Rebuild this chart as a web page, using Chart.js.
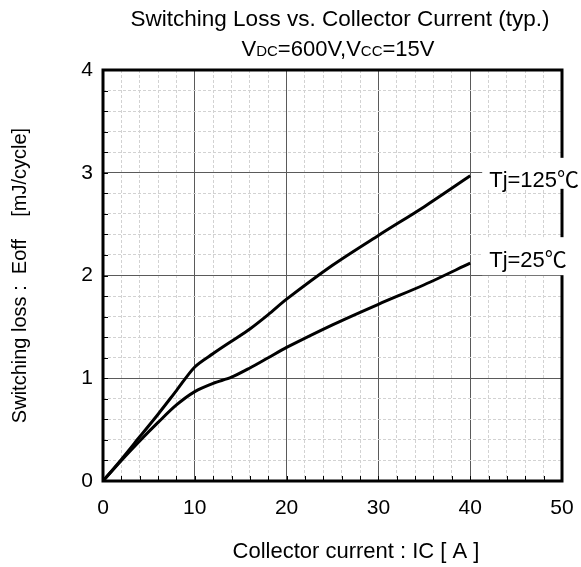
<!DOCTYPE html>
<html>
<head>
<meta charset="utf-8">
<script src="https://cdn.jsdelivr.net/npm/chart.js@4.4.1/dist/chart.umd.min.js"></script>
<style>
  body { margin: 0; background: #fff; }
  #wrap { width: 581px; height: 567px; position: relative; }
</style>
</head>
<body>
<div id="wrap"><canvas id="myChart"></canvas></div>
<script>
// collector current [A]
let current = [0, 2, 4, 6, 8, 10, 12, 14, 16, 18, 20, 25, 30, 35, 40];
// Eoff [mJ/cycle]
let eoff125 = [0, 0.21, 0.43, 0.65, 0.88, 1.11, 1.24, 1.36, 1.48, 1.62, 1.77, 2.10, 2.39, 2.67, 2.97];
let eoff25 = [0, 0.20, 0.39, 0.57, 0.74, 0.87, 0.95, 1.01, 1.10, 1.20, 1.30, 1.52, 1.72, 1.91, 2.12];

let seriesNames = ['Tj=125℃', 'Tj=25℃'];
let xTicks = [0, 10, 20, 30, 40, 50];
let yTicks = [0, 1, 2, 3, 4];

let fontFamily = '"Liberation Sans", Arial, "Noto Sans CJK JP", sans-serif';

function toPoints(xs, ys) {
  let pts = [];
  for (let i = 0; i < xs.length; i++) {
    pts.push({ x: xs[i], y: ys[i] });
  }
  return pts;
}

function isMajor(v, list) {
  for (let i = 0; i < list.length; i++) {
    if (Math.abs(v - list[i]) < 1e-6) return true;
  }
  return false;
}

// titles, frame, inward ticks and the series labels
const decorations = {
  id: 'decorations',
  afterDraw(chart) {
    const ctx = chart.ctx;
    const area = chart.chartArea;
    const xs = chart.scales.x;
    const ys = chart.scales.y;

    ctx.save();
    ctx.fillStyle = '#000';
    ctx.textBaseline = 'alphabetic';

    // title
    ctx.font = '22.5px ' + fontFamily;
    ctx.textAlign = 'center';
    ctx.fillText('Switching Loss vs. Collector Current (typ.)', 340, 26);

    // sub title with subscripts
    let parts = [['V', false], ['DC', true], ['=600V,V', false], ['CC', true], ['=15V', false]];
    let total = 0;
    for (let p of parts) {
      ctx.font = (p[1] ? '15px ' : '22px ') + fontFamily;
      total += ctx.measureText(p[0]).width;
    }
    let cx = 338 - total / 2;
    ctx.textAlign = 'left';
    for (let p of parts) {
      ctx.font = (p[1] ? '15px ' : '22px ') + fontFamily;
      ctx.fillText(p[0], cx, 56);
      cx += ctx.measureText(p[0]).width;
    }

    // inward tick marks
    ctx.strokeStyle = '#000';
    ctx.lineWidth = 1;
    ctx.beginPath();
    for (let t of xs.ticks) {
      let px = Math.round(xs.getPixelForValue(t.value)) + 0.5;
      ctx.moveTo(px, area.bottom);
      ctx.lineTo(px, area.bottom - 5);
    }
    for (let t of ys.ticks) {
      let py = Math.round(ys.getPixelForValue(t.value)) + 0.5;
      ctx.moveTo(area.left, py);
      ctx.lineTo(area.left + 5, py);
    }
    ctx.stroke();

    // frame
    ctx.lineWidth = 3;
    ctx.strokeRect(area.left, area.top, area.right - area.left, area.bottom - area.top);

    // series labels on white boxes, placed beside the last point
    let ends = [eoff125[eoff125.length - 1], eoff25[eoff25.length - 1]];
    let shift = [3, -4];
    let boxTop = [-21, -22];
    let boxH = [31, 38];
    let lastX = current[current.length - 1];
    ctx.font = '22px ' + fontFamily;
    ctx.textAlign = 'left';
    for (let i = 0; i < seriesNames.length; i++) {
      let lx = xs.getPixelForValue(lastX) + 12;
      let ly = ys.getPixelForValue(ends[i]) + shift[i];
      ctx.fillStyle = '#fff';
      ctx.fillRect(lx, ly + boxTop[i], chart.width - lx, boxH[i]);
      ctx.fillStyle = '#000';
      ctx.fillText(seriesNames[i], lx + 7, ly + 8);
    }

    // x axis title
    ctx.font = '22px ' + fontFamily;
    ctx.textAlign = 'center';
    ctx.fillText('Collector current : IC [ A ]', 356, 558);

    ctx.restore();
  }
};

const ctx = document.getElementById('myChart').getContext('2d');
const myChart = new Chart(ctx, {
  type: 'line',
  data: {
    datasets: [{
      label: seriesNames[0],
      data: toPoints(current, eoff125),
      borderColor: '#000',
      borderWidth: 3,
      pointRadius: 0,
      tension: 0.3
    }, {
      label: seriesNames[1],
      data: toPoints(current, eoff25),
      borderColor: '#000',
      borderWidth: 3,
      pointRadius: 0,
      tension: 0.3
    }]
  },
  options: {
    responsive: true,
    maintainAspectRatio: false,
    animation: false,
    layout: {
      padding: { top: 70, right: 19, bottom: 0, left: 0 }
    },
    plugins: {
      legend: { display: false },
      tooltip: { enabled: false }
    },
    scales: {
      x: {
        type: 'linear',
        min: 0,
        max: 50,
        afterFit(scale) {
          scale.height = 86;
          scale.paddingLeft = 0;
          scale.paddingRight = 0;
        },
        ticks: {
          stepSize: 2,
          autoSkip: false,
          maxRotation: 0,
          padding: 15,
          color: '#000',
          font: { size: 21, family: fontFamily },
          callback: function (v) { return isMajor(v, xTicks) ? String(Math.round(v)) : ''; }
        },
        grid: {
          drawTicks: false,
          lineWidth: 1,
          color: (c) => isMajor(c.tick.value, xTicks) ? '#5a5a5a' : '#d2d2d2'
        },
        border: {
          display: false,
          dash: (c) => isMajor(c.tick.value, xTicks) ? [] : [3, 2]
        }
      },
      y: {
        type: 'linear',
        min: 0,
        max: 4,
        afterFit(scale) {
          scale.width = 103;
          scale.paddingTop = 0;
          scale.paddingBottom = 0;
        },
        ticks: {
          stepSize: 0.2,
          autoSkip: false,
          padding: 10,
          color: '#000',
          font: { size: 21, family: fontFamily },
          callback: function (v) { return isMajor(v, yTicks) ? String(Math.round(v)) : ''; }
        },
        grid: {
          drawTicks: false,
          lineWidth: 1,
          color: (c) => isMajor(c.tick.value, yTicks) ? '#5a5a5a' : '#d2d2d2'
        },
        border: {
          display: false,
          dash: (c) => isMajor(c.tick.value, yTicks) ? [] : [3, 2]
        },
        title: {
          display: true,
          text: 'Switching loss :  Eoff    [mJ/cycle]',
          color: '#000',
          font: { size: 20, family: fontFamily },
          padding: { top: 8, bottom: 0 }
        }
      }
    }
  },
  plugins: [decorations]
});
</script>
</body>
</html>
